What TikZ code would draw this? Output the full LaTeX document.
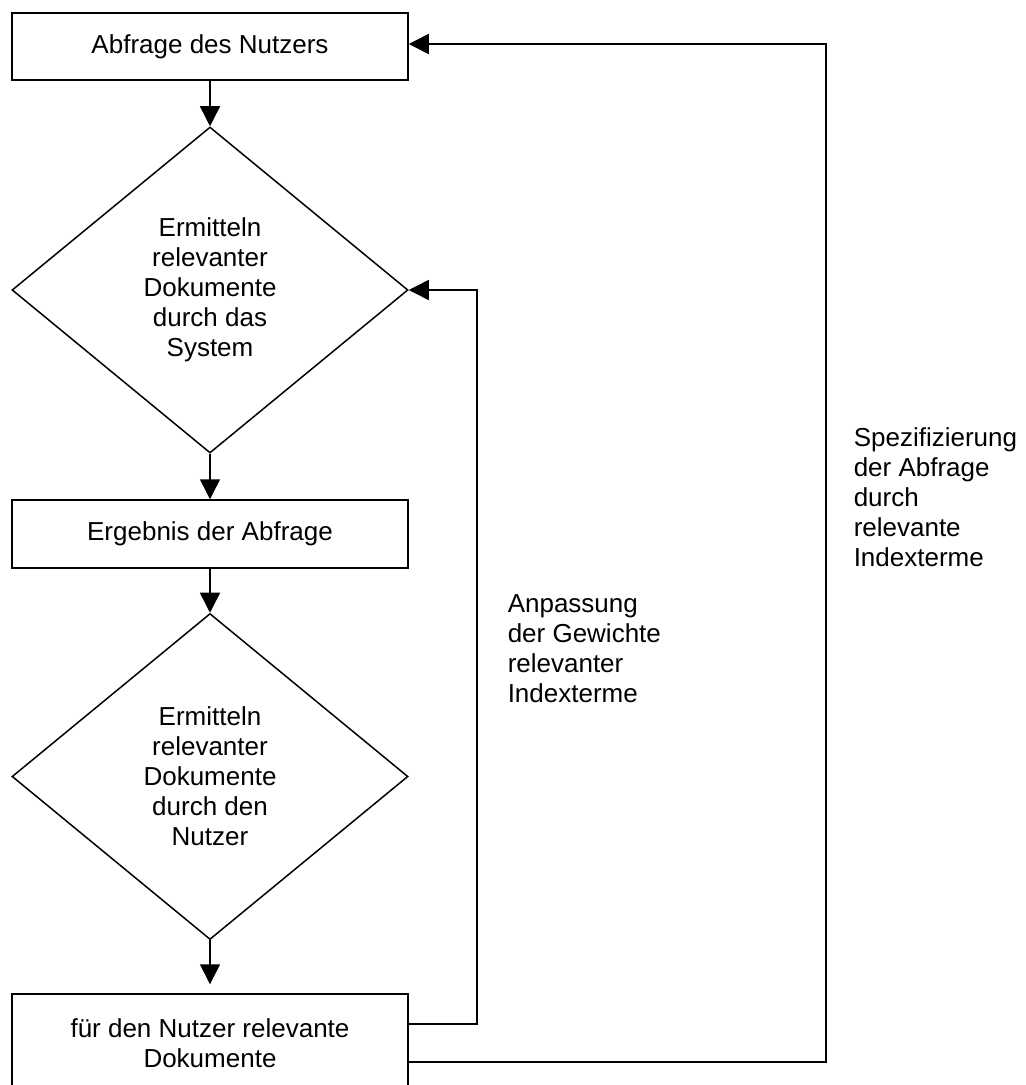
\documentclass[tikz,border=0pt]{standalone}
\usepackage{fontspec}
\setmainfont{Liberation Sans}
\usetikzlibrary{shapes.geometric,arrows.meta}
\begin{document}
\begin{tikzpicture}[x=1pt,y=-1pt,
  line width=1.5pt,
  every node/.style={font=\fontsize{26}{30}\selectfont},
  procbox/.style={draw,rectangle,minimum width=396pt,inner sep=0pt,align=center},
  decision/.style={draw,diamond,minimum width=396pt,minimum height=326pt,inner sep=0pt,align=center},
  flow/.style={-{Triangle[length=20pt,width=20pt]}},
  note/.style={anchor=north west,inner sep=0pt,align=left}]
\clip (0,0) rectangle (1026,1085);
\fill[white] (0,0) rectangle (1026,1085);

% main flow
\node[procbox,minimum height=67pt] (query) at (210,46.5) {Abfrage des Nutzers};
\node[decision] (check1) at (210,290) {Ermitteln\\relevanter\\Dokumente\\durch das\\System};
\node[procbox,minimum height=68pt] (result) at (210,534) {Ergebnis der Abfrage};
\node[decision] (check2) at (210,776.5) {Ermitteln\\relevanter\\Dokumente\\durch den\\Nutzer};
\node[procbox,minimum height=98pt] (final) at (210,1043) {für den Nutzer relevante\\Dokumente};

\draw[flow] (query) -- (check1);
\draw[flow] (check1) -- (result);
\draw[flow] (result) -- (check2);
\draw[flow,shorten >=9pt] (check2) -- (final);

% feedback loops
\coordinate (loopA) at (477,1024);
\coordinate (loopB) at (826,1062);
\coordinate (entryB) at ([yshift=2.5pt]query.east);
\draw[flow] (final.east |- loopA) -- (loopA) -- (loopA |- check1.east) -- (check1.east);
\draw[flow] (final.east |- loopB) -- (loopB) -- (loopB |- entryB) -- (entryB);

% loop labels
\node[note] (labelA) at (507,594) {Anpassung\\der Gewichte\\relevanter\\Indexterme};
\node[note] (labelB) at (853,427) {Spezifizierung\\der Abfrage\\durch\\relevante\\Indexterme};
\end{tikzpicture}
\end{document}
